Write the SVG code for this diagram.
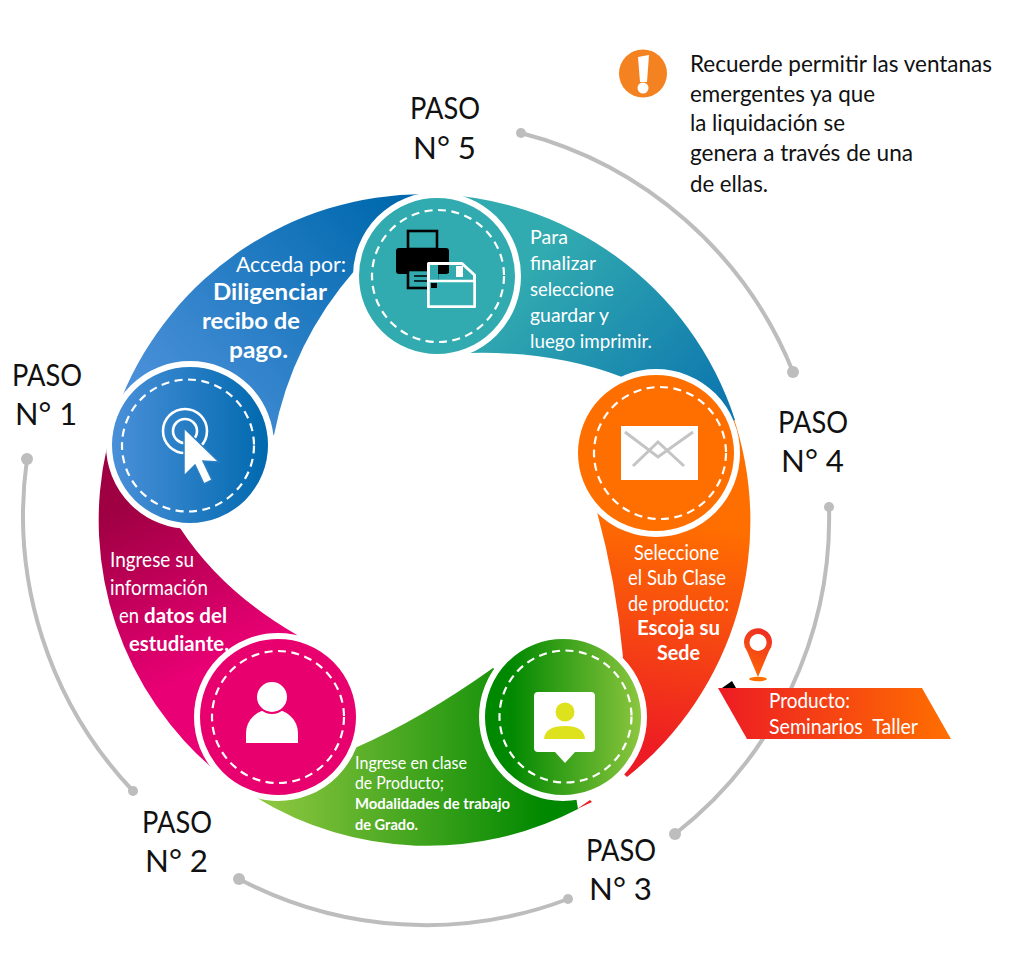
<svg xmlns="http://www.w3.org/2000/svg" width="1024" height="974" viewBox="0 0 1024 974">
<style>
text{font-family:"Lato","Liberation Sans",sans-serif}
.p{font-size:31px;fill:#111;font-weight:400}
.n{font-size:24px;fill:#111;font-weight:400}
.w{fill:#fff;font-size:22px;font-weight:400}
.b{font-weight:700}
.arc{fill:none;stroke:#bdbdbd;stroke-width:4}
.dot{fill:#bdbdbd}
.ring{stroke:#fff;stroke-width:6}
.dash{fill:none;stroke:#fff;stroke-width:2.2;stroke-dasharray:8 5.5}
</style>
<defs>
<linearGradient id="gBlue" gradientUnits="userSpaceOnUse" x1="170" y1="420" x2="400" y2="210"><stop offset="0" stop-color="#4a90d9"/><stop offset="1" stop-color="#0069ae"/></linearGradient>
<linearGradient id="gBlueC" gradientUnits="userSpaceOnUse" x1="112" y1="445" x2="268" y2="445"><stop offset="0" stop-color="#4a90d9"/><stop offset="1" stop-color="#0069ae"/></linearGradient>
<linearGradient id="gTeal" gradientUnits="userSpaceOnUse" x1="540" y1="250" x2="710" y2="410"><stop offset="0" stop-color="#32abb0"/><stop offset="1" stop-color="#0e78ae"/></linearGradient>
<linearGradient id="gOr" gradientUnits="userSpaceOnUse" x1="680" y1="520" x2="640" y2="750"><stop offset="0" stop-color="#ff6f00"/><stop offset="1" stop-color="#ed1c24"/></linearGradient>
<linearGradient id="gGr" gradientUnits="userSpaceOnUse" x1="270" y1="800" x2="545" y2="800"><stop offset="0" stop-color="#8cc63f"/><stop offset="1" stop-color="#008800"/></linearGradient>
<linearGradient id="gGrC" gradientUnits="userSpaceOnUse" x1="510" y1="717" x2="641" y2="717"><stop offset="0" stop-color="#008800"/><stop offset="1" stop-color="#8cc63f"/></linearGradient>
<linearGradient id="gMg" gradientUnits="userSpaceOnUse" x1="110" y1="510" x2="190" y2="680"><stop offset="0" stop-color="#9e0042"/><stop offset="1" stop-color="#ea0075"/></linearGradient>
<linearGradient id="gBan" gradientUnits="userSpaceOnUse" x1="720" y1="0" x2="950" y2="0"><stop offset="0" stop-color="#ed1c24"/><stop offset="1" stop-color="#ff6f00"/></linearGradient>
<linearGradient id="gPin" gradientUnits="userSpaceOnUse" x1="745" y1="680" x2="772" y2="630"><stop offset="0" stop-color="#ff6f00"/><stop offset="1" stop-color="#ed2a24"/></linearGradient>
</defs>

<g id="connectors">
<path class="arc" d="M521 133A401 401 0 0 1 793 372"/><circle class="dot" cx="521" cy="133" r="5"/><circle class="dot" cx="793" cy="372" r="6"/>
<path class="arc" d="M829 507A401 401 0 0 1 675 834"/><circle class="dot" cx="829" cy="507" r="5"/><circle class="dot" cx="675" cy="834" r="6"/>
<path class="arc" d="M568 899A401 401 0 0 1 239 879"/><circle class="dot" cx="568" cy="899" r="5"/><circle class="dot" cx="239" cy="879" r="6"/>
<path class="arc" d="M133 791A401 401 0 0 1 27 459"/><circle class="dot" cx="133" cy="791" r="5"/><circle class="dot" cx="27" cy="459" r="6"/>
</g>

<g id="bands">
<path fill="url(#gOr)" d="M732 413A327 327 0 0 1 627 777L563 717L623 657Q616 581 597 512L656 453Z"/>
<path fill="#ed1c24" d="M577 809L590 800L592 802Z"/>
<path fill="url(#gTeal)" d="M424 194A327 327 0 0 1 735 420L656 453L622 377Q554 351 470 353L437 276Z"/>
<path fill="url(#gBlue)" d="M122 397A327 327 0 0 1 424 194L400 270L355 270Q292 342 274 435L190 445Z"/>
<path fill="url(#gMg)" d="M107 447A327 327 0 0 0 217 772L278 717L297 635Q222 592 180 528L190 445Z"/>
<path fill="url(#gGr)" d="M257 798A327 327 0 0 0 578 809L563 717L493 668Q423 718 355 748L278 717Z"/>
</g>

<g id="node1">
<circle class="ring" cx="190" cy="445" r="81" fill="url(#gBlueC)"/>
<circle class="dash" cx="188" cy="445.500" r="66"/>
<circle cx="185" cy="431" r="22" fill="none" stroke="#fff" stroke-width="2.6"/>
<circle cx="185" cy="431" r="12" fill="none" stroke="#fff" stroke-width="2.6"/>
<path fill="#fff" stroke="#2a7fc4" stroke-width="1.5" d="M184 428L219 462L203 461L212 480L204 484L195 465L184 476Z"/>
</g>
<g id="node2">
<circle class="ring" cx="278" cy="717" r="81" fill="#e9006f"/>
<circle class="dash" cx="278" cy="717" r="66"/>
<path fill="#fff" d="M246 743V733A26 24 0 0 1 298 733V743Z"/>
<circle cx="272" cy="697" r="16" fill="#fff" stroke="#e9006f" stroke-width="2"/>
</g>
<g id="node3">
<circle class="ring" cx="563" cy="717" r="81" fill="url(#gGrC)"/>
<circle class="dash" cx="565.500" cy="716.500" r="66"/>
<path fill="#fff" d="M538 692H591Q595 692 595 696V748Q595 752 591 752H575L565 763L555 752H538Q534 752 534 748V696Q534 692 538 692Z"/>
<circle cx="565" cy="712" r="9.5" fill="#dde21c"/>
<path fill="#dde21c" d="M544 739Q545 726 565 726Q584 726 585 739Z"/>
</g>
<g id="node4">
<circle class="ring" cx="656" cy="453" r="81" fill="#ff6f00"/>
<circle class="dash" cx="660" cy="453" r="66"/>
<rect x="621" y="426" width="77" height="54" fill="#fff"/>
<path fill="none" stroke="#c4c4c4" stroke-width="3" d="M625 432L658 457L693 432M633 466L658 442L684 466"/>
</g>
<g id="node5">
<circle class="ring" cx="437" cy="276" r="81" fill="#32abb0"/>
<circle class="dash" cx="438" cy="276" r="66"/>
<rect x="408" y="231" width="29" height="18" fill="none" stroke="#000" stroke-width="2.6"/>
<rect x="396" y="248" width="53" height="26" rx="3" fill="#000"/>
<rect x="408" y="270" width="29" height="18" fill="#32abb0" stroke="#000" stroke-width="2.6"/>
<path stroke="#000" stroke-width="1.6" d="M414 276H430M414 281H430"/>
<path fill="#32abb0" d="M428 264H438V283H428Z"/>
<path fill="none" stroke="#fff" stroke-width="3" stroke-linejoin="round" d="M428.500 263.500H462L474.500 275V306.500H428.500Z"/>
<path fill="#35aeb3" stroke="#fff" stroke-width="2.5" stroke-linejoin="round" d="M428.500 281H474.500V306.500H428.500Z"/>
<rect x="431" y="283" width="6" height="5" fill="#000"/>
<rect x="438" y="265" width="11" height="8" fill="#000"/>
<rect x="456" y="266" width="7" height="11" fill="#fff"/>
</g>

<g id="labels">
<text class="p" x="410" y="119" textLength="70" lengthAdjust="spacingAndGlyphs">PASO</text><text class="p" x="413" y="159" textLength="63" lengthAdjust="spacingAndGlyphs">N° 5</text>
<text class="p" x="12" y="386" textLength="70" lengthAdjust="spacingAndGlyphs">PASO</text><text class="p" x="15" y="425" textLength="62" lengthAdjust="spacingAndGlyphs">N° 1</text>
<text class="p" x="778" y="433" textLength="70" lengthAdjust="spacingAndGlyphs">PASO</text><text class="p" x="781" y="472" textLength="63" lengthAdjust="spacingAndGlyphs">N° 4</text>
<text class="p" x="586" y="861" textLength="70" lengthAdjust="spacingAndGlyphs">PASO</text><text class="p" x="589" y="900" textLength="63" lengthAdjust="spacingAndGlyphs">N° 3</text>
<text class="p" x="142" y="833" textLength="70" lengthAdjust="spacingAndGlyphs">PASO</text><text class="p" x="145" y="872" textLength="63" lengthAdjust="spacingAndGlyphs">N° 2</text>

<text class="w" x="236" y="272" textLength="110" lengthAdjust="spacingAndGlyphs">Acceda por:</text>
<text class="w b" x="213" y="300" textLength="114" lengthAdjust="spacingAndGlyphs">Diligenciar</text>
<text class="w b" x="202" y="329" textLength="98" lengthAdjust="spacingAndGlyphs">recibo de</text>
<text class="w b" x="229" y="358" textLength="59" lengthAdjust="spacingAndGlyphs">pago.</text>

<text class="w" style="font-size:20px" x="530" y="244" textLength="38" lengthAdjust="spacingAndGlyphs">Para</text>
<text class="w" style="font-size:20px" x="530" y="270" textLength="66" lengthAdjust="spacingAndGlyphs">finalizar</text>
<text class="w" style="font-size:20px" x="530" y="296" textLength="84" lengthAdjust="spacingAndGlyphs">seleccione</text>
<text class="w" style="font-size:20px" x="530" y="322" textLength="79" lengthAdjust="spacingAndGlyphs">guardar y</text>
<text class="w" style="font-size:20px" x="530" y="348" textLength="122" lengthAdjust="spacingAndGlyphs">luego imprimir.</text>

<text class="w" style="font-size:21px" x="634" y="560" textLength="85" lengthAdjust="spacingAndGlyphs">Seleccione</text>
<text class="w" style="font-size:21px" x="628" y="585" textLength="98" lengthAdjust="spacingAndGlyphs">el Sub Clase</text>
<text class="w" style="font-size:21px" x="628" y="611" textLength="101" lengthAdjust="spacingAndGlyphs">de producto:</text>
<text class="w b" style="font-size:20px" x="637" y="635" textLength="83" lengthAdjust="spacingAndGlyphs">Escoja su</text>
<text class="w b" style="font-size:20px" x="657" y="660" textLength="43" lengthAdjust="spacingAndGlyphs">Sede</text>

<text class="w" style="font-size:16.500px" x="355" y="769" textLength="112" lengthAdjust="spacingAndGlyphs">Ingrese en clase</text>
<text class="w" style="font-size:16.500px" x="355" y="789" textLength="89" lengthAdjust="spacingAndGlyphs">de Producto;</text>
<text class="w" style="font-size:16px;font-weight:700" x="355" y="809" textLength="155" lengthAdjust="spacingAndGlyphs">Modalidades de trabajo</text>
<text class="w" style="font-size:16px;font-weight:700" x="355" y="830" textLength="63" lengthAdjust="spacingAndGlyphs">de Grado.</text>

<text class="w" style="font-size:22px" x="110" y="567" textLength="84" lengthAdjust="spacingAndGlyphs">Ingrese su</text>
<text class="w" style="font-size:22px" x="110" y="595" textLength="98" lengthAdjust="spacingAndGlyphs">información</text>
<text class="w" style="font-size:22px" x="119" y="623" textLength="20" lengthAdjust="spacingAndGlyphs">en</text>
<text class="w b" style="font-size:21px" x="144" y="623" textLength="83" lengthAdjust="spacingAndGlyphs">datos del</text>
<text class="w b" style="font-size:21px" x="129" y="651" textLength="100" lengthAdjust="spacingAndGlyphs">estudiante.</text>
</g>

<g id="notice">
<circle cx="643" cy="73.500" r="24" fill="#f58220"/>
<path fill="#fff" d="M638 57L649 55L647 82H640Z"/>
<circle cx="643" cy="88" r="5.500" fill="#fff"/>
<text class="n" x="690" y="72" textLength="302" lengthAdjust="spacingAndGlyphs">Recuerde permitir las ventanas</text>
<text class="n" x="690" y="102" textLength="185" lengthAdjust="spacingAndGlyphs">emergentes ya que</text>
<text class="n" x="690" y="131" textLength="155" lengthAdjust="spacingAndGlyphs">la liquidación se</text>
<text class="n" x="690" y="161" textLength="223" lengthAdjust="spacingAndGlyphs">genera a través de una</text>
<text class="n" x="690" y="192" textLength="78" lengthAdjust="spacingAndGlyphs">de ellas.</text>
</g>

<g id="banner">
<path fill="#000" d="M722 688L732 681L736 688Z"/>
<polygon points="718,688 922,688 951,739 747,739" fill="url(#gBan)"/>
<text class="w" style="font-size:21px" x="769" y="708" textLength="81" lengthAdjust="spacingAndGlyphs">Producto:</text>
<text class="w" style="font-size:21px" x="769" y="734" textLength="149" lengthAdjust="spacingAndGlyphs" xml:space="preserve">Seminarios  Taller</text>
<ellipse cx="758" cy="679" rx="9" ry="2.2" fill="#ff6f00"/>
<path fill="url(#gPin)" fill-rule="evenodd" d="M758 677L747 651A14 14 0 1 1 769 651ZM758 634A8.500 8.500 0 1 0 758.100 634Z"/>
</g>
</svg>
